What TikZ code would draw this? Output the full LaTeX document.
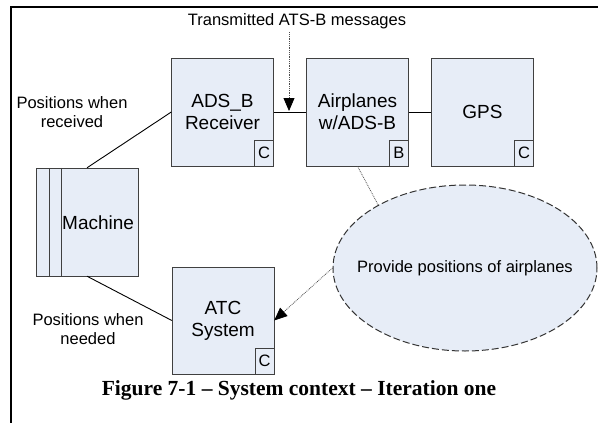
\documentclass[tikz,border=0pt]{standalone}
\usepackage{fontspec}
\setmainfont{Liberation Sans}
\newfontfamily\capfont{Liberation Serif}
\usetikzlibrary{shapes.geometric,arrows.meta}
\definecolor{boxfill}{RGB}{231,237,247}

\begin{document}
\begin{tikzpicture}[x=1pt,y=-1pt,
		block/.style={draw=black!75,fill=boxfill,minimum width=102pt,minimum height=108pt,
			inner sep=0pt,align=center,font=\fontsize{19}{22}\selectfont},
		tag/.style={draw=black!75,fill=boxfill,minimum width=19pt,minimum height=26pt,
			inner sep=0pt,anchor=south east,font=\fontsize{16.5}{18}\selectfont},
		lbl/.style={align=center,font=\fontsize{16.5}{19.5}\selectfont},
		link/.style={line width=.9pt},
		hint/.style={draw=black!70,densely dotted,line width=.8pt},
		tip/.style={-{Triangle[length=13pt,width=11pt,black]}}]
	\useasboundingbox (0,0) rectangle (598,423);
	\draw[line width=2.5pt] (11,423) -- (11,7) -- (598,7);
	
	\node[block] (rcv) at (222.5,112) {ADS\_B\\Receiver};
	\node[block] (air) at (357.5,112) {Airplanes\\w/ADS-B};
	\node[block] (gps) at (482.5,112) {GPS};
	\node[block,minimum height=107pt] (atc) at (223,320.5) {ATC\\System};
	\node[tag] (rcvc) at (rcv.south east) {C};
	\node[tag] (airb) at (air.south east) {B};
	\node[tag] (gpsc) at (gps.south east) {C};
	\node[tag] (atcc) at (atc.south east) {C};
	
	\node[block] (mach) at (87,222) {};
	\draw[black!75] ([xshift=13pt]mach.north west) -- ([xshift=13pt]mach.south west);
	\draw[black!75] ([xshift=25pt]mach.north west) -- ([xshift=25pt]mach.south west);
	\node[anchor=west,inner sep=0pt,font=\fontsize{19}{22}\selectfont] (machtext) at (62,223) {Machine};
	
	\node[ellipse,draw=black!80,fill=boxfill,dash pattern=on 7pt off 3pt,line width=1pt,
		minimum width=264pt,minimum height=166pt] (goal) at (465,268) {};
	\node[lbl] (goaltext) at (goal) {Provide positions of airplanes};
	
	\node[lbl] (msg) at (297,21) {Transmitted ATS-B messages};
	\node[lbl] (rcvlbl) at (72,112) {Positions when\\received};
	\node[lbl] (atclbl) at (88,329) {Positions when\\needed};
	\coordinate (hit) at (289,111);
	
	\draw[link] (rcv) -- (air);
	\draw[link] (air) -- (gps);
	\draw[link] (mach.north) -- (rcv.west);
	\draw[link] (mach.south) -- (atc.west);
	\draw[hint,tip] (msg.south -| hit) -- (hit);
	\draw[hint] (air.south) -- (goal.144);
	\draw[hint,tip] (goal.west) -- (atc.east);
	
	\node[anchor=base,font=\capfont\bfseries\fontsize{21.5}{24}\selectfont] (cap) at (299,395)
		{Figure 7-1 – System context – Iteration one};
\end{tikzpicture}
\end{document}
